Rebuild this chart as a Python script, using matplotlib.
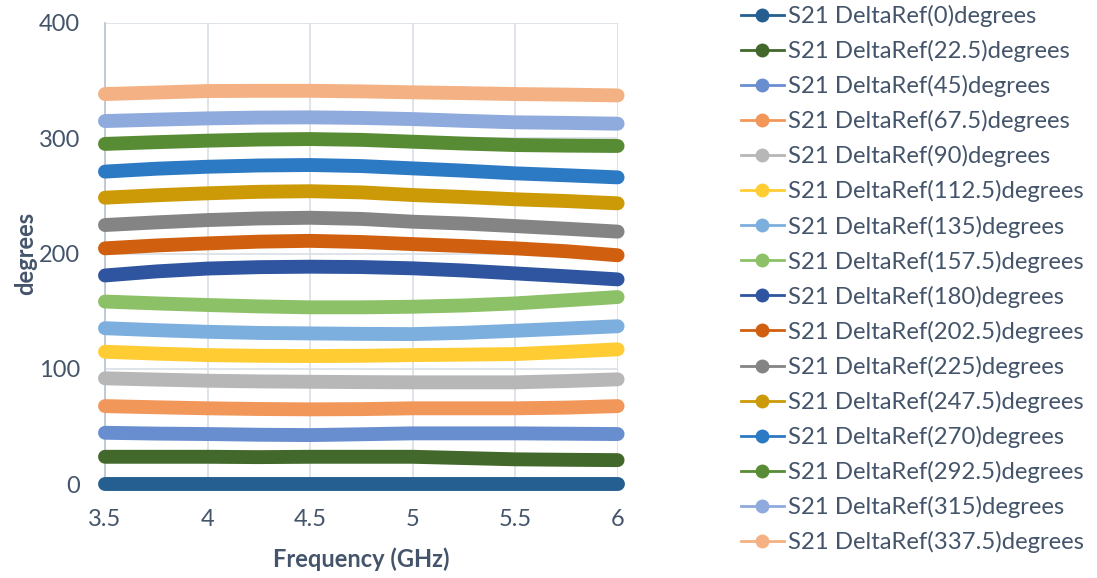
import matplotlib.pyplot as plt
from matplotlib.lines import Line2D

plt.rcParams['font.family'] = ['Lato', 'DejaVu Sans']

# frequency points (GHz)
freq = [3.5, 3.75, 4.0, 4.25, 4.5, 4.75, 5.0, 5.25, 5.5, 5.75, 6.0]

# phase values (degrees)
s0 = [0, 0, 0, 0, 0, 0, 0, 0, 0, 0, 0]
s22_5 = [23.9, 23.9, 23.9, 23.6, 23.9, 23.9, 23.9, 22.8, 21.7, 21.3, 21.0]
s45 = [44.7, 44.0, 43.6, 43.0, 42.7, 43.4, 44.2, 44.2, 44.2, 43.9, 43.6]
s67_5 = [67.8, 66.8, 65.9, 65.3, 65.0, 65.2, 65.9, 65.9, 65.9, 66.5, 67.8]
s90 = [91.9, 90.8, 89.8, 89.2, 88.9, 88.6, 88.4, 88.4, 88.4, 89.5, 91.0]
s112_5 = [114.9, 113.3, 112.0, 111.4, 111.2, 111.4, 112.0, 112.4, 112.9, 114.8, 117.0]
s135 = [135.3, 133.6, 132.2, 131.2, 130.8, 130.4, 130.2, 131.3, 133.1, 135.0, 137.0]
s157_5 = [158.4, 156.8, 155.4, 154.2, 153.4, 153.4, 153.9, 155.0, 156.8, 159.5, 162.3]
s180 = [181.0, 184.5, 187.0, 188.2, 188.6, 188.3, 187.2, 185.3, 182.8, 180.3, 177.6]
s202_5 = [204.5, 207.0, 208.8, 210.3, 211.0, 210.0, 208.2, 206.5, 204.5, 202.0, 198.5]
s225 = [224.7, 227.0, 229.0, 230.4, 231.0, 230.0, 227.6, 226.0, 223.8, 221.5, 219.0]
s247_5 = [248.4, 250.5, 252.2, 253.5, 254.0, 253.0, 250.7, 249.0, 247.0, 245.5, 243.5]
s270 = [271.0, 273.5, 275.2, 276.3, 276.7, 275.8, 273.8, 271.8, 269.5, 267.8, 266.0]
s292_5 = [295.0, 296.5, 297.8, 298.8, 299.2, 298.5, 296.9, 295.3, 294.0, 293.5, 293.2]
s315 = [314.8, 316.0, 317.1, 317.8, 318.0, 317.5, 316.5, 315.0, 313.7, 313.2, 312.5]
s337_5 = [338.2, 339.5, 340.8, 341.0, 341.0, 340.5, 339.7, 339.0, 338.2, 337.7, 337.0]

series = [s0, s22_5, s45, s67_5, s90, s112_5, s135, s157_5,
          s180, s202_5, s225, s247_5, s270, s292_5, s315, s337_5]
names = ['0', '22.5', '45', '67.5', '90', '112.5', '135', '157.5',
         '180', '202.5', '225', '247.5', '270', '292.5', '315', '337.5']
colors = ['#255E91', '#43682B', '#698ED0', '#F1975A', '#B7B7B7', '#FFCD33',
          '#7CAFDD', '#8CC168', '#2F55A0', '#D0600F', '#848484', '#CC9A06',
          '#2D7AC4', '#588C34', '#8FAADC', '#F4B183']

text_color = '#44546A'
grid_color = '#D9DEE6'

fig = plt.figure(figsize=(10.97, 5.78), dpi=100)
ax = fig.add_axes([0.0957, 0.162, 0.4673, 0.7987])

handles = []
for vals, name, c in zip(series, names, colors):
    ax.plot(freq, vals, color=c, linewidth=10, solid_capstyle='round',
            solid_joinstyle='round', clip_on=False, zorder=3)
    handles.append(Line2D([0], [0], color=c, linewidth=2, marker='o',
                          markersize=9, markerfacecolor=c, markeredgecolor=c,
                          label='S21 DeltaRef(' + name + ')degrees'))

ax.set_xlim(3.5, 6)
ax.set_ylim(0, 400)
ax.set_xticks([3.5, 4, 4.5, 5, 5.5, 6])
ax.set_xticklabels(['3.5', '4', '4.5', '5', '5.5', '6'])
ax.set_yticks([0, 100, 200, 300, 400])
ax.grid(True, color=grid_color, linewidth=1.2, zorder=0)
ax.set_axisbelow(True)
for s in ['top', 'right', 'bottom']:
    ax.spines[s].set_visible(False)
ax.spines['left'].set_color('#B8C2D0')
ax.spines['left'].set_linewidth(1.2)
ax.tick_params(length=0, labelsize=17, labelcolor=text_color)
ax.tick_params(axis='x', pad=18)
ax.tick_params(axis='y', pad=18)

ax.set_xlabel('Frequency (GHz)', fontsize=17, fontweight='bold',
              color=text_color, labelpad=12)
ax.set_ylabel('degrees', fontsize=17, fontweight='bold',
              color=text_color, labelpad=1)

leg = fig.legend(handles=handles, loc='upper left',
                 bbox_to_anchor=(0.6664, 1.008), frameon=False, fontsize=17.2,
                 labelspacing=0.544, handlelength=1.8, handletextpad=0.2,
                 borderaxespad=0)
for t in leg.get_texts():
    t.set_color(text_color)

fig.savefig('out.png', dpi=100)
